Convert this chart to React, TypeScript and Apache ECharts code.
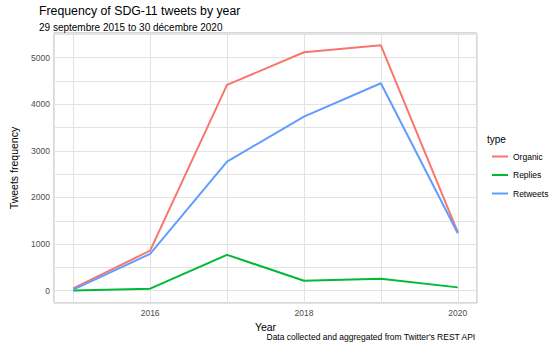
import React, { useEffect, useRef } from "react";
import * as echarts from "echarts";

const years = [2015, 2016, 2017, 2018, 2019, 2020];
const organic = [50, 860, 4415, 5115, 5265, 1255];
const replies = [5, 45, 770, 215, 258, 72];
const retweets = [25, 790, 2770, 3735, 4450, 1232];
const seriesNames = ["Organic", "Replies", "Retweets"];
const seriesColors = ["#F8766D", "#00BA38", "#619CFF"];
const xLabels = [2016, 2018, 2020];
const yLabels = [0, 1000, 2000, 3000, 4000, 5000];

export default function App() {
  const ref = useRef<HTMLDivElement>(null);
  useEffect(() => {
    if (!ref.current) return;
    const chart = echarts.init(ref.current, undefined, { renderer: "svg" });
    const allVals = [...organic, ...replies, ...retweets];
    const yMaxData = Math.max(...allVals);
    const yMinData = Math.min(0, ...allVals);
    const yPad = (yMaxData - yMinData) * 0.05;
    const xPad = (years[years.length - 1] - years[0]) * 0.05;
    const font = "Liberation Sans, Arial, sans-serif";
    const dataSets = [organic, replies, retweets];
    chart.setOption({
      animation: false,
      textStyle: { fontFamily: font },
      title: [
        {
          text: "Frequency of SDG-11 tweets by year",
          subtext: "29 septembre 2015 to 30 décembre 2020",
          left: 34,
          top: 0,
          itemGap: 5,
          textStyle: { fontSize: 12.3, fontWeight: "normal", color: "#000", fontFamily: font },
          subtextStyle: { fontSize: 10, color: "#000", fontFamily: font },
        },
        {
          text: "Data collected and aggregated from Twitter's REST API",
          right: 69,
          top: 327,
          textStyle: { fontSize: 8.5, fontWeight: "normal", color: "#000", fontFamily: font },
        },
        {
          text: "type",
          left: 482,
          top: 129,
          textStyle: { fontSize: 10, fontWeight: "normal", color: "#000", fontFamily: font },
        },
      ],
      legend: {
        orient: "vertical",
        left: 492,
        top: 152,
        padding: 0,
        itemWidth: 16,
        itemHeight: 2,
        itemGap: 9.5,
        icon: "rect",
        data: seriesNames,
        textStyle: { fontSize: 8.5, color: "#000", fontFamily: font, width: 60, overflow: "none" },
      },
      grid: {
        left: 37,
        right: 73,
        top: 33,
        bottom: 41,
        show: true,
        borderColor: "#B3B3B3",
        borderWidth: 1,
        backgroundColor: "#fff",
      },
      xAxis: {
        type: "value",
        min: years[0] - xPad,
        max: years[years.length - 1] + xPad,
        splitNumber: 6,
        name: "Year",
        nameLocation: "middle",
        nameGap: 13,
        nameTextStyle: { fontSize: 10.5, color: "#000", fontFamily: font },
        axisLine: { show: false },
        axisTick: { show: false },
        axisLabel: {
          fontSize: 8.5,
          color: "#4D4D4D",
          margin: 5,
          showMinLabel: true,
          showMaxLabel: true,
          formatter: (v: number) => (xLabels.includes(Math.round(v * 1000) / 1000) ? String(v) : ""),
        },
        splitLine: { show: true, lineStyle: { color: "#E3E3E3", width: 1 } },
      },
      yAxis: {
        type: "value",
        min: yMinData - yPad,
        max: yMaxData + yPad,
        splitNumber: 11,
        name: "Tweets frequency",
        nameLocation: "middle",
        nameGap: 35,
        nameTextStyle: { fontSize: 10.5, color: "#000", fontFamily: font },
        axisLine: { show: false },
        axisTick: { show: false },
        axisLabel: {
          fontSize: 8.5,
          color: "#4D4D4D",
          margin: 4,
          formatter: (v: number) => (yLabels.includes(Math.round(v * 1000) / 1000) ? String(v) : ""),
        },
        splitLine: { show: true, lineStyle: { color: "#E3E3E3", width: 1 } },
      },
      series: seriesNames.map((name, i) => ({
        name,
        type: "line",
        data: years.map((y, j) => [y, dataSets[i][j]]),
        showSymbol: false,
        symbol: "none",
        color: seriesColors[i],
        lineStyle: { width: 2, color: seriesColors[i] },
        itemStyle: { color: seriesColors[i] },
      })),
    });
    return () => chart.dispose();
  }, []);
  return <div ref={ref} style={{ width: 550, height: 344, position: "absolute", left: 0, top: 0 }} />;
}
